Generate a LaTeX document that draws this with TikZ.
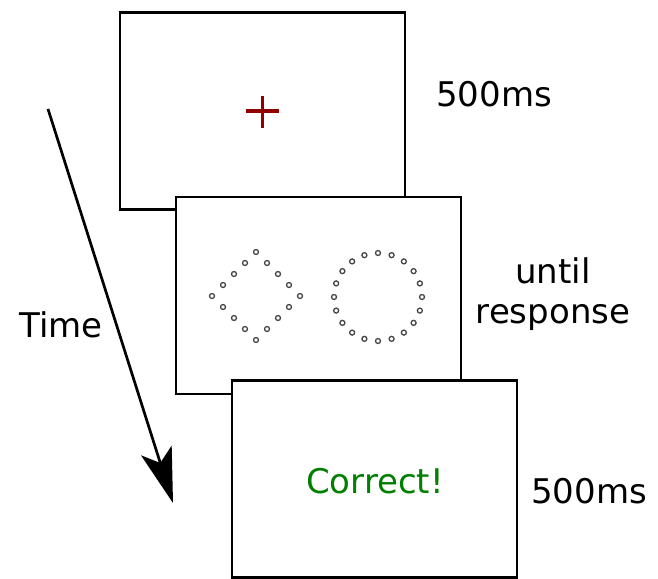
\documentclass[tikz,border=0pt]{standalone}
\usepackage{fontspec}
\setmainfont{DejaVu Sans}
\usetikzlibrary{arrows.meta}
\definecolor{plusred}{RGB}{145,0,0}
\definecolor{okgreen}{RGB}{0,128,0}
\definecolor{dotgray}{RGB}{70,70,70}
\begin{document}
\begin{tikzpicture}[x=1pt,y=-1pt,
  screen/.style={draw=black,line width=2.8pt,fill=white,minimum width=285pt,minimum height=197pt,inner sep=0pt},
  lbl/.style={anchor=base,font=\fontsize{34}{40}\selectfont,inner sep=0pt},
  dot/.style={draw=dotgray,line width=1.3pt,fill=white}]
\useasboundingbox (0,0) rectangle (658,578);
% screens
\node[screen] (s1) at (262.5,111) {};
\draw[plusred,line width=3.2pt] (246,111) -- (279,111) (262.5,96) -- (262.5,128);
\node[screen] (s2) at (318.5,295.5) {};
\foreach \x/\y in {0/-44,-11/-33,-22/-22,-33/-11,-44/0,-33/11,-22/22,-11/33,0/44,11/33,22/22,33/11,44/0,33/-11,22/-22,11/-33}
  \draw[dot] (256+\x,296+\y) circle (2.5pt);
\foreach \a in {0,18,...,342}
  \draw[dot,shift={(378,297)}] (\a:44pt) circle (2.5pt);
\node[screen] (s3) at (374.5,479) {};
\node[lbl,text=okgreen] (ok) at (375,493) {Correct!};
% labels
\node[lbl] (t1) at (494,106) {500ms};
\node[lbl] (t2a) at (553,283) {until};
\node[lbl] (t2b) at (553,323) {response};
\node[lbl] (t3) at (589,503) {500ms};
\node[lbl] (tm) at (61,337) {Time};
% time arrow
\coordinate (ta) at (48,109);
\coordinate (tb) at (173,503);
\draw[line width=2.7pt,-{Stealth[length=55pt,width=32pt,inset=13pt]}] (ta) -- (tb);
\end{tikzpicture}
\end{document}
